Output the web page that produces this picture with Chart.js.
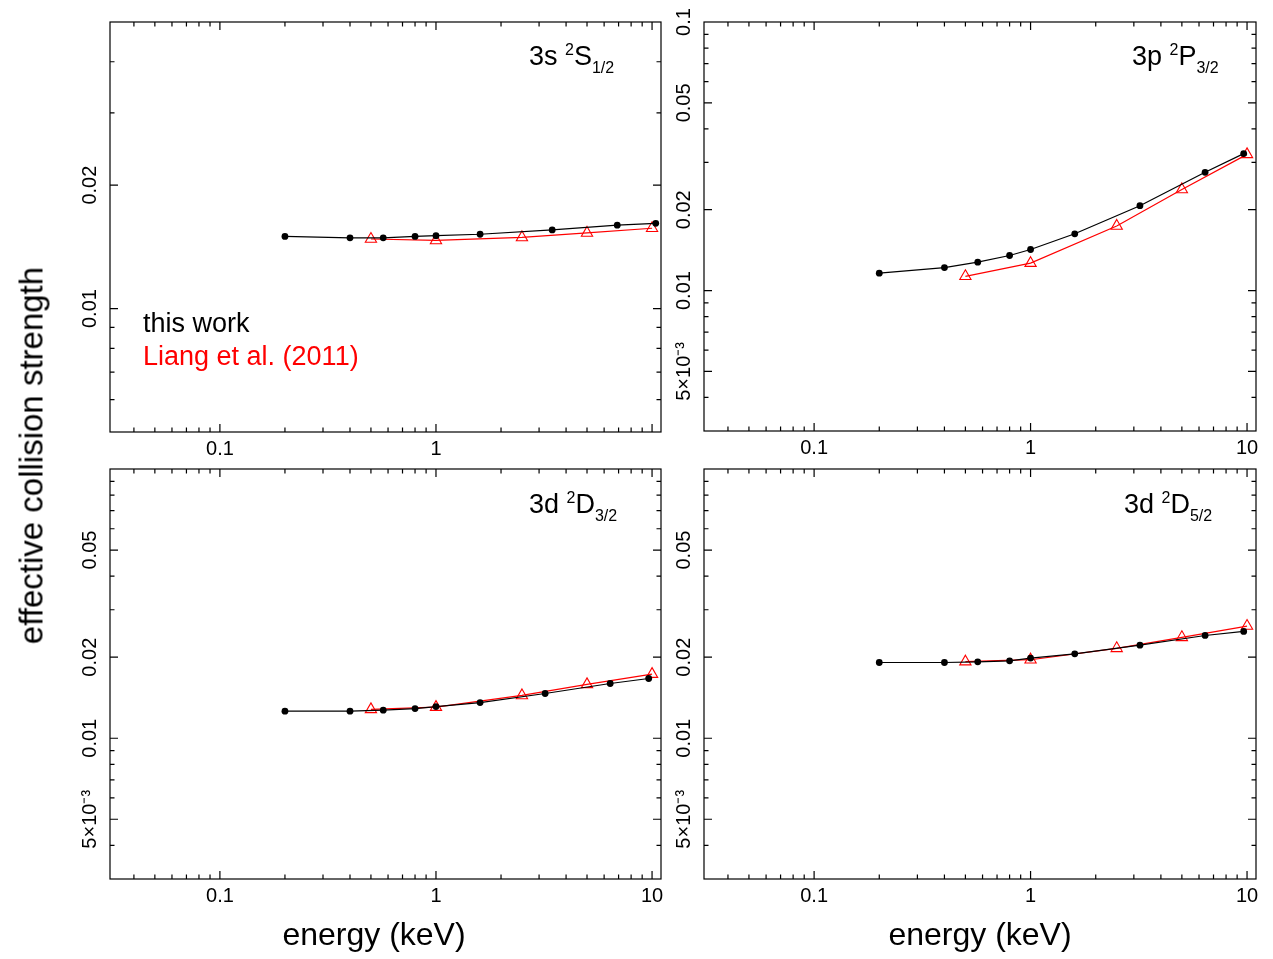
<!DOCTYPE html>
<html>
<head>
<meta charset="utf-8">
<script src="https://cdn.jsdelivr.net/npm/chart.js@4.4.1/dist/chart.umd.min.js"></script>
<style>
  body { margin: 0; background: #fff; width: 1273px; height: 959px; overflow: hidden; position: relative;
         font-family: "Liberation Sans", Arial, Helvetica, sans-serif; }
  canvas { position: absolute; left: 0; top: 0; }
  .txt { position: absolute; white-space: nowrap; line-height: 1; color: #000; }
  .lab { font-size: 27px; }
  .lab span { font-size: 16px; position: relative; }
  .sup { top: -10px; }
  .sub { top: 8px; }
</style>
</head>
<body>
<canvas id="c_tl" width="1273" height="959"></canvas>
<canvas id="c_tr" width="1273" height="959"></canvas>
<canvas id="c_bl" width="1273" height="959"></canvas>
<canvas id="c_br" width="1273" height="959"></canvas>

<div class="txt lab" style="left:529px; top:43px;">3s <span class="sup">2</span>S<span class="sub">1/2</span></div>
<div class="txt lab" style="left:1132px; top:43px;">3p <span class="sup">2</span>P<span class="sub">3/2</span></div>
<div class="txt lab" style="left:529px; top:491px;">3d <span class="sup">2</span>D<span class="sub">3/2</span></div>
<div class="txt lab" style="left:1124px; top:491px;">3d <span class="sup">2</span>D<span class="sub">5/2</span></div>

<div class="txt" style="left:143px; top:310px; font-size:27px;">this work</div>
<div class="txt" style="left:143px; top:343px; font-size:27px; color:#ff0000;">Liang et al. (2011)</div>

<div class="txt" style="left:224px; top:918px; width:300px; text-align:center; font-size:32px;">energy (keV)</div>
<div class="txt" style="left:830px; top:918px; width:300px; text-align:center; font-size:32px;">energy (keV)</div>
<div class="txt" style="left:-219px; top:439px; width:500px; height:33px; line-height:33px; text-align:center; font-size:33px; transform:rotate(-90deg);">effective collision strength</div>

<script>
// energies (keV)
const eThisWorkTL = [0.2, 0.4, 0.57, 0.8, 1.0, 1.6, 3.45, 6.9, 10.4];
const eThisWork = [0.2, 0.4, 0.57, 0.8, 1.0, 1.6, 3.2, 6.4, 9.65];
const eLiang = [0.5, 1.0, 2.5, 5.0, 10.0];

// effective collision strengths
const ups3sS12 = [0.0150, 0.01488, 0.01488, 0.0150, 0.01506, 0.01518, 0.01555, 0.01597, 0.01614];
const liang3sS12 = [0.01478, 0.01466, 0.01491, 0.01529, 0.01570];
const ups3pP32 = [0.01161, 0.01218, 0.01276, 0.01351, 0.01422, 0.01627, 0.0207, 0.02757, 0.03236];
const liang3pP32 = [0.0113, 0.01265, 0.0174, 0.0238, 0.03215];
const ups3dD32 = [0.0126, 0.0126, 0.01271, 0.01289, 0.01311, 0.01357, 0.01466, 0.01597, 0.01667];
const liang3dD32 = [0.0128, 0.01305, 0.01442, 0.01585, 0.0173];
const ups3dD52 = [0.01911, 0.01911, 0.01922, 0.01939, 0.01984, 0.02059, 0.02217, 0.02408, 0.02492];
const liang3dD52 = [0.01925, 0.01957, 0.02157, 0.0237, 0.0261];

// ticks
const xTickValues = [0.1, 1, 10];
const xTickText = ['0.1', '1', '10'];
const xMinorTicks = [0.04, 0.05, 0.06, 0.07, 0.08, 0.09, 0.2, 0.3, 0.4, 0.5, 0.6, 0.7, 0.8, 0.9,
                     2, 3, 4, 5, 6, 7, 8, 9];
const yTickValues = [0.005, 0.01, 0.02, 0.05, 0.1];
const yTickText = ['5×10⁻³', '0.01', '0.02', '0.05', '0.1'];
const yMinorTicks = [0.004, 0.006, 0.007, 0.008, 0.009, 0.03, 0.04, 0.06, 0.07, 0.08, 0.09];

const W = 1273, H = 959;

function pts(xs, ys) {
  return xs.map((x, i) => ({x: x, y: ys[i]}));
}

// frame with inward ticks on all four sides, tick labels outside
function frame(xLabelled, yLabelled) {
  return {
    id: 'frame',
    afterDraw(chart) {
      const ctx = chart.ctx, a = chart.chartArea;
      const sx = chart.scales.x, sy = chart.scales.y;
      ctx.save();
      ctx.strokeStyle = '#000';
      ctx.lineWidth = 1.2;
      ctx.strokeRect(a.left, a.top, a.right - a.left, a.bottom - a.top);
      ctx.beginPath();
      const xt = (v, len) => {
        const p = sx.getPixelForValue(v);
        if (p <= a.left + 1 || p >= a.right - 1) return;
        ctx.moveTo(p, a.bottom); ctx.lineTo(p, a.bottom - len);
        ctx.moveTo(p, a.top); ctx.lineTo(p, a.top + len);
      };
      const yt = (v, len) => {
        const p = sy.getPixelForValue(v);
        if (p <= a.top + 1 || p >= a.bottom - 1) return;
        ctx.moveTo(a.left, p); ctx.lineTo(a.left + len, p);
        ctx.moveTo(a.right, p); ctx.lineTo(a.right - len, p);
      };
      xTickValues.forEach(v => xt(v, 8));
      xMinorTicks.forEach(v => xt(v, 4.5));
      yTickValues.forEach(v => yt(v, 8));
      yMinorTicks.forEach(v => yt(v, 4.5));
      ctx.stroke();

      ctx.fillStyle = '#000';
      ctx.font = '20px "Liberation Sans", Arial, sans-serif';
      ctx.textAlign = 'center';
      ctx.textBaseline = 'alphabetic';
      xTickValues.forEach((v, i) => {
        if (!xLabelled.includes(v)) return;
        ctx.fillText(xTickText[i], sx.getPixelForValue(v), a.bottom + 23);
      });
      ctx.textBaseline = 'middle';
      yTickValues.forEach((v, i) => {
        if (!yLabelled.includes(v)) return;
        ctx.save();
        ctx.translate(a.left - 20, sy.getPixelForValue(v));
        ctx.rotate(-Math.PI / 2);
        ctx.fillText(yTickText[i], 0, 0);
        ctx.restore();
      });
      ctx.restore();
    }
  };
}

function panel(id, box, yMin, yMax, eBlack, black, red, xLabelled, yLabelled) {
  new Chart(document.getElementById(id), {
    type: 'line',
    data: {
      datasets: [{
        data: pts(eBlack, black),
        borderColor: '#000',
        borderWidth: 1.2,
        pointStyle: 'circle',
        pointRadius: 3.4,
        pointBackgroundColor: '#000',
        pointBorderWidth: 0,
        tension: 0
      }, {
        data: pts(eLiang, red),
        borderColor: '#ff0000',
        borderWidth: 1.2,
        pointStyle: 'triangle',
        pointRadius: 6.5,
        pointBackgroundColor: 'rgba(0,0,0,0)',
        pointBorderColor: '#ff0000',
        pointBorderWidth: 1.1,
        tension: 0
      }]
    },
    options: {
      responsive: false,
      animation: false,
      events: [],
      layout: {padding: {left: box[0], top: box[1], right: W - box[2], bottom: H - box[3]}},
      plugins: {legend: {display: false}, tooltip: {enabled: false}},
      scales: {
        x: {type: 'logarithmic', min: 0.031, max: 11.0, display: false},
        y: {type: 'logarithmic', min: yMin, max: yMax, display: false}
      }
    },
    plugins: [frame(xLabelled, yLabelled)]
  });
}

panel('c_tl', [110, 22, 661, 432], 0.005, 0.05, eThisWorkTL, ups3sS12, liang3sS12,
      [0.1, 1], [0.01, 0.02]);
panel('c_tr', [704, 22, 1256, 431], 0.003, 0.1, eThisWork, ups3pP32, liang3pP32,
      [0.1, 1, 10], [0.005, 0.01, 0.02, 0.05, 0.1]);
panel('c_bl', [110, 469, 661, 879], 0.003, 0.1, eThisWork, ups3dD32, liang3dD32,
      [0.1, 1, 10], [0.005, 0.01, 0.02, 0.05]);
panel('c_br', [704, 469, 1256, 879], 0.003, 0.1, eThisWork, ups3dD52, liang3dD52,
      [0.1, 1, 10], [0.005, 0.01, 0.02, 0.05]);
</script>
</body>
</html>
